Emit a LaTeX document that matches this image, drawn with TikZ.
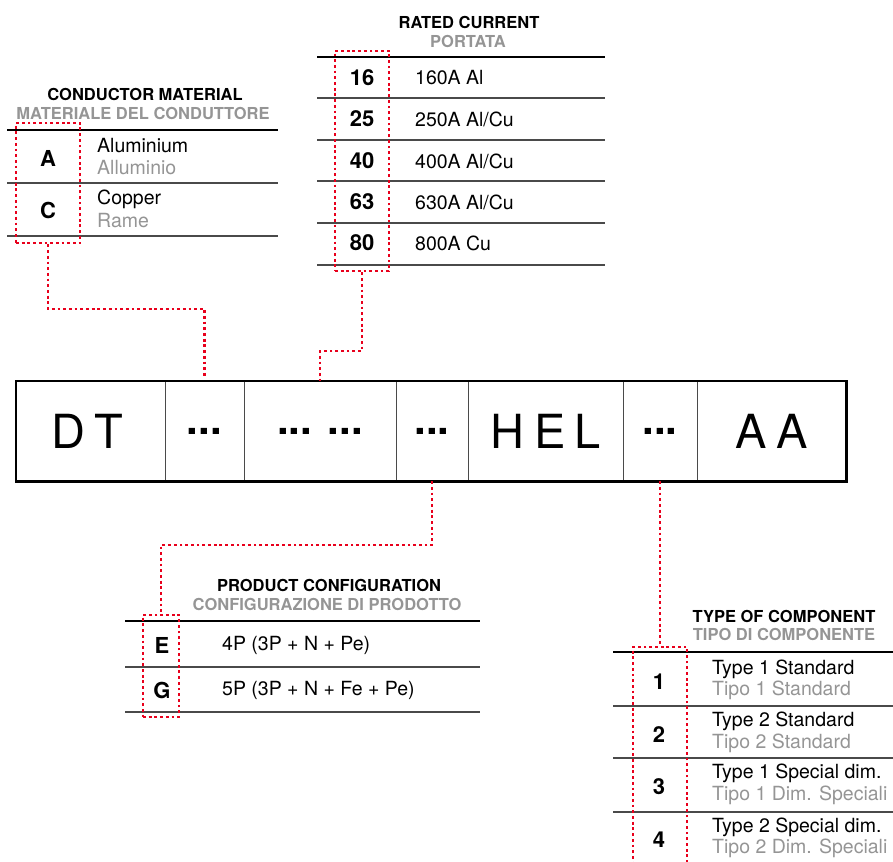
\documentclass[tikz,border=0pt]{standalone}
\usepackage{fontspec}
\setmainfont{TeX Gyre Heros}
\definecolor{redc}{HTML}{E8001C}
\definecolor{grayt}{HTML}{959595}
\definecolor{rowc}{HTML}{4A4A4A}
\begin{document}
\begin{tikzpicture}[x=1pt,y=-1pt,
  reddot/.style={draw=redc, line width=2.8pt, dash pattern=on 2.8pt off 2.9pt},
  redbox/.style={reddot, rectangle, inner sep=0pt},
  thickline/.style={line width=2.6pt, black},
  rowline/.style={line width=1.4pt, rowc},
  ttl/.style={font=\fontsize{16.5}{17}\selectfont\bfseries, inner sep=0pt},
  ttlg/.style={ttl, text=grayt},
  code/.style={font=\fontsize{22}{23}\selectfont\bfseries, inner sep=0pt},
  desc/.style={font=\fontsize{19.5}{20}\selectfont, inner sep=0pt, anchor=west},
  descg/.style={desc, text=grayt},
  cell/.style={rectangle, minimum height=100pt, inner sep=0pt, font=\fontsize{47}{48}\selectfont},
  dots/.style={cell, font=\fontsize{42}{44}\selectfont\bfseries},
  divider/.style={line width=1pt, rowc}
]
\useasboundingbox (0,0) rectangle (893,861);

% ---------- main code box ----------
\node[cell, minimum width=149pt] (c1) at (87.5,431) {D\kern9pt T};
\node[dots, minimum width=79pt]  (c2) at (204.5,431) {...};
\node[dots, minimum width=152pt] (c3) at (320,431) {... ...};
\node[dots, minimum width=72pt]  (c4) at (432,431) {...};
\node[cell, minimum width=155pt] (c5) at (545.5,431) {H\kern10pt E\kern9pt L};
\node[dots, minimum width=74pt]  (c6) at (660,431) {...};
\node[cell, minimum width=149pt] (c7) at (771.5,431) {A\kern10pt A};
\draw[divider] (165,381) -- (165,481);
\draw[divider] (c2.north east) -- (c2.south east);
\draw[divider] (c3.north east) -- (c3.south east);
\draw[divider] (c4.north east) -- (c4.south east);
\draw[divider] (c5.north east) -- (c5.south east);
\draw[divider] (c6.north east) -- (c6.south east);
\draw[thickline] (16,381) rectangle (c7.south east);

% ---------- conductor material ----------
\node[ttl]  (cmt) at (145,94) {CONDUCTOR MATERIAL};
\node[ttlg] (cmg) at (143,113) {MATERIALE DEL CONDUTTORE};
\draw[thickline] (7,130) -- (278,130);
\draw[rowline] (7,183) -- (278,183);
\draw[rowline] (7,236) -- (278,236);
\node[code] (cmA) at (48,158) {A};
\node[code] (cmC) at (48,210) {C};
\node[desc]  (cmA1) at (97,146) {Aluminium};
\node[descg] (cmA2) at (97,168) {Alluminio};
\node[desc]  (cmC1) at (97,199) {Copper};
\node[descg] (cmC2) at (97,221) {Rame};
\node[redbox, minimum width=64pt, minimum height=120pt] (cm) at (48,183) {};

% ---------- rated current ----------
\node[ttl]  (rct) at (469,22) {RATED CURRENT};
\node[ttlg] (rcg) at (468,41) {PORTATA};
\draw[thickline] (317,57) -- (605,57);
\foreach \yy in {98,140,181,223,265} \draw[rowline] (317,\yy) -- (605,\yy);
\node[code] (r16) at (362,78) {16};
\node[code] (r25) at (362,119) {25};
\node[code] (r40) at (362,161) {40};
\node[code] (r63) at (362,202) {63};
\node[code] (r80) at (362,243) {80};
\node[desc] (d16) at (415,78) {160A Al};
\node[desc] (d25) at (415,119) {250A Al/Cu};
\node[desc] (d40) at (415,161) {400A Al/Cu};
\node[desc] (d63) at (415,202) {630A Al/Cu};
\node[desc] (d80) at (415,243) {800A Cu};
\node[redbox, minimum width=54pt, minimum height=220pt] (rc) at (362,161) {};

% ---------- product configuration ----------
\node[ttl]  (pct) at (329,585) {PRODUCT CONFIGURATION};
\node[ttlg] (pcg) at (327,604) {CONFIGURAZIONE DI PRODOTTO};
\draw[thickline] (125,621) -- (480,621);
\draw[rowline] (125,667) -- (480,667);
\draw[rowline] (125,712) -- (480,712);
\node[code] (pE) at (162,645) {E};
\node[code] (pG) at (162,690) {G};
\node[desc] (dE) at (222,645) {4P (3P + N + Pe)};
\node[desc] (dG) at (222,690) {5P (3P + N + Fe + Pe)};
\node[redbox, minimum width=36pt, minimum height=102pt] (pc) at (161,666) {};

% ---------- type of component ----------
\node[ttl]  (tct) at (784,616) {TYPE OF COMPONENT};
\node[ttlg] (tcg) at (784,634) {TIPO DI COMPONENTE};
\draw[thickline] (613,652) -- (900,652);
\draw[rowline] (613,706) -- (900,706);
\draw[rowline] (613,758) -- (900,758);
\draw[rowline] (613,812) -- (900,812);
\node[code] (t1) at (659,682) {1};
\node[code] (t2) at (659,735) {2};
\node[code] (t3) at (659,787) {3};
\node[code] (t4) at (659,840) {4};
\node[desc]  (t1a) at (712,669) {Type 1 Standard};
\node[descg] (t1b) at (712,690) {Tipo 1 Standard};
\node[desc]  (t2a) at (712,721) {Type 2 Standard};
\node[descg] (t2b) at (712,743) {Tipo 2 Standard};
\node[desc]  (t3a) at (712,773) {Type 1 Special dim.};
\node[descg] (t3b) at (712,795) {Tipo 1 Dim. Speciali};
\node[desc]  (t4a) at (712,827) {Type 2 Special dim.};
\node[descg] (t4b) at (712,848) {Tipo 2 Dim. Speciali};
\node[redbox, minimum width=54pt, minimum height=236pt] (tc) at (660,765) {};

% ---------- connectors ----------
\draw[reddot, shorten >=5pt] (cm.south) |- (c2.north |- 0,309) -- (c2.north);
\draw[reddot] (rc.south) |- (c3.north |- 0,351) -- (c3.north);
\draw[reddot] (c4.south) |- (pc.north |- 0,545) -- (pc.north);
\draw[reddot] (c6.south) -- (tc.north);
\end{tikzpicture}
\end{document}
